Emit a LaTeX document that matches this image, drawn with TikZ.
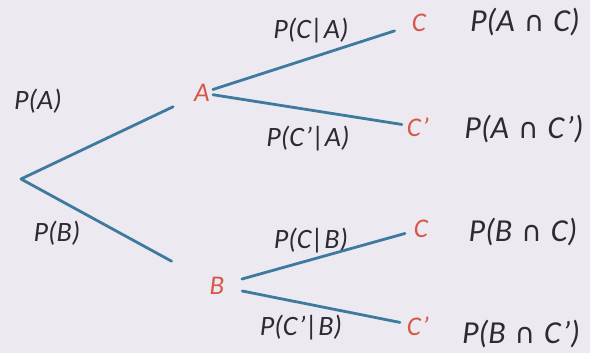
\documentclass[tikz,border=0pt]{standalone}
\usepackage{fontspec}
\setmainfont{Carlito}
\newfontfamily\symfont{DejaVu Sans}
\usetikzlibrary{positioning}
\definecolor{branchblue}{RGB}{62,122,158}
\definecolor{eventred}{RGB}{214,88,72}
\definecolor{inkgray}{RGB}{45,42,52}
\definecolor{paper}{RGB}{236,234,240}
\newcommand{\inter}{\hspace{9pt}{\upshape\symfont\fontsize{28}{30}\selectfont ∩}\hspace{9pt}}

\begin{document}
\begin{tikzpicture}[
        x=1pt, y=-1pt,
        event/.style={text=eventred, font=\fontsize{27}{30}\selectfont\itshape, inner sep=1pt},
        prob/.style={text=inkgray, font=\fontsize{28}{30}\selectfont\itshape, inner sep=1pt},
        joint/.style={text=inkgray, font=\fontsize{32}{34}\selectfont\itshape, inner sep=1pt},
        branch/.style={draw=branchblue, line width=2.8pt, line cap=round}
    ]
        \fill [paper] (0,0) rectangle (590,353);
        \useasboundingbox (0,0) rectangle (590,353);
        % tree nodes
        \coordinate (root) at (21,179);
        \node [event] (A)   at (202,93)  {A};
        \node [event] (B)   at (217,286) {B};
        \node [event] (CA)  at (419,23)  {C};
        \node [event] (CpA) at (418,127) {C'};
        \node [event] (CB)  at (421,229) {C};
        \node [event] (CpB) at (418,326) {C'};
        % branch probabilities
        \node [prob] (pA)   at (38,101)  {P(A)};
        \node [prob] (pB)   at (57,233)  {P(B)};
        \node [prob] (pCA)  at (311,31)  {P(C|A)};
        \node [prob] (pCpA) at (308,139) {P(C'|A)};
        \node [prob] (pCB)  at (311,241) {P(C|B)};
        \node [prob] (pCpB) at (301,328) {P(C'|B)};
        % joint probabilities
        \node [joint] (jAC)  at (525,22)  {P(A\inter C)};
        \node [joint] (jACp) at (524,129) {P(A\inter C')};
        \node [joint] (jBC)  at (523,232) {P(B\inter C)};
        \node [joint] (jBCp) at (521,334) {P(B\inter C')};
        % branches
        \path [branch, shorten >=22pt] (root) -- (A);
        \path [branch, shorten >=42pt] (root) -- (B);
        \path [branch, shorten <=2pt, shorten >=17pt] (A) -- (CA);
        \path [branch, shorten <=2pt, shorten >=4pt] (A) -- (CpA);
        \path [branch, shorten <=17pt, shorten >=8pt] (B) -- (CB);
        \path [branch, shorten <=17pt, shorten >=6pt] (B) -- (CpB);
\end{tikzpicture}
\end{document}
